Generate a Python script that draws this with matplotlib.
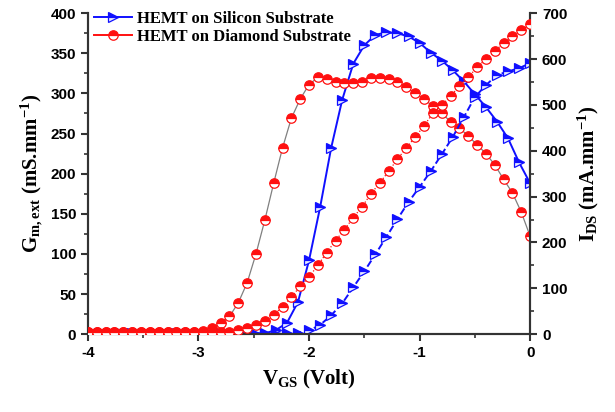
import numpy as np
import matplotlib
matplotlib.use("Agg")
import matplotlib.pyplot as plt
from matplotlib.lines import Line2D
from matplotlib.ticker import MultipleLocator
from matplotlib.font_manager import FontProperties

plt.rcParams['mathtext.fontset'] = 'custom'
plt.rcParams['mathtext.rm'] = 'Liberation Serif:bold'
plt.rcParams['mathtext.it'] = 'Liberation Serif:bold'
plt.rcParams['mathtext.bf'] = 'Liberation Serif:bold'

# gate voltage grids (V)
vgs_si = np.round(np.arange(-4.0, 0.001, 0.1), 2)      # 41 points
vgs_dia = np.round(np.arange(-4.0, 0.001, 0.08), 2)    # 51 points

# HEMT on silicon substrate
gm_si = [1] * 17 + [5, 14, 40, 92, 158, 232, 292, 337, 360, 373,
                    376, 375, 371, 363, 351, 341, 329, 315, 299, 283,
                    265, 244, 214, 188]
ids_si = [1] * 18 + [2, 3, 8, 20, 41, 67, 102, 137, 174, 212,
                     251, 288, 321, 355, 392, 430, 473, 517, 543, 565,
                     573, 580, 591]

# HEMT on diamond substrate
gm_dia = [3] * 13 + [4, 7.5, 14, 22, 39, 64, 100, 142, 188, 232, 269,
                     293, 311, 320, 318, 314, 313, 313, 314, 319, 319,
                     318, 314, 308, 300, 293, 284, 275, 265, 257, 247,
                     236, 225, 211, 193, 176, 152, 122]
ids_dia = [4] * 16 + [4, 8, 13, 19, 28, 42, 60, 81, 104, 125,
                      150, 178, 204, 228, 254, 278, 306, 330, 355, 382,
                      406, 430, 454, 482, 499, 519, 541, 560, 582, 600,
                      617, 635, 650, 663, 676]

blue = '#1010ff'
red = '#ff1010'
tick_font = dict(family='Liberation Sans', weight='bold', size=11)

fig = plt.figure(figsize=(6.15, 4.12), dpi=100)
ax = fig.add_axes([0.143, 0.189, 0.719, 0.779])
ax2 = ax.twinx()

mk_si = dict(marker='>', markersize=6.8, fillstyle='top', markerfacecolor=blue,
             markerfacecoloralt='#e8ecff', markeredgecolor=blue, markeredgewidth=0.9)
mk_dia = dict(marker='o', markersize=6.8, fillstyle='top', markerfacecolor=red,
              markerfacecoloralt='white', markeredgecolor=red, markeredgewidth=0.9)

ax.plot(vgs_si, gm_si, color=blue, lw=1.4, ls='-', zorder=2, **mk_si)
ax2.plot(vgs_si, ids_si, color=blue, lw=1.4, ls='--', zorder=2, **mk_si)
ax.plot(vgs_dia, gm_dia, color='#808080', lw=0.9, ls='-', zorder=3, **mk_dia)
ax2.plot(vgs_dia, ids_dia, color=red, lw=0.9, ls=':', zorder=3, **mk_dia)

ax.set_xlim(-4, 0)
ax.set_ylim(0, 400)
ax2.set_ylim(0, 700)
ax.xaxis.set_major_locator(MultipleLocator(1))
ax.xaxis.set_minor_locator(MultipleLocator(0.5))
ax.yaxis.set_major_locator(MultipleLocator(50))
ax.yaxis.set_minor_locator(MultipleLocator(25))
ax2.yaxis.set_major_locator(MultipleLocator(100))
ax2.yaxis.set_minor_locator(MultipleLocator(50))

for a in (ax, ax2):
    a.spines['top'].set_visible(False)
    for s in a.spines.values():
        s.set_color('#333333')
        s.set_linewidth(1.5)
    a.tick_params(which='major', direction='out', length=5, width=1.5, color='#333333')
    a.tick_params(which='minor', direction='out', length=3, width=1.2, color='#333333')
    for lab in a.get_xticklabels() + a.get_yticklabels():
        lab.set_fontproperties(FontProperties(**tick_font))
ax.set_xticks([-4, -3, -2, -1, 0])
ax.set_xticklabels(['-4', '-3', '-2', '-1', '0'], **tick_font)

lab_font = dict(family='Liberation Serif', weight='bold', size=15)
ax.set_xlabel(r'V$_{GS}$ (Volt)', labelpad=6, **lab_font)
ax.set_ylabel(r'G$_{m, ext}$ (mS.mm$^{-1}$)', labelpad=4, **lab_font)
ax2.set_ylabel(r'I$_{DS}$ (mA.mm$^{-1}$)', labelpad=6, **lab_font)

handles = [Line2D([], [], color=blue, lw=1.4, **mk_si),
           Line2D([], [], color=red, lw=1.4, **mk_dia)]
ax.legend(handles, ['HEMT on Silicon Substrate', 'HEMT on Diamond Substrate'],
          loc='upper left', bbox_to_anchor=(-0.02, 1.055), frameon=False,
          handlelength=2.3, handletextpad=0.3, labelspacing=0.15,
          prop=dict(family='Liberation Serif', weight='bold', size=12))

fig.savefig('out.png', dpi=100)
